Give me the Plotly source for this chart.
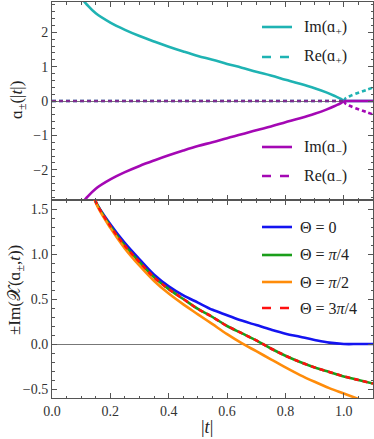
import plotly.graph_objects as go

# ---- top panel: a_plus / a_minus ----
t_im = [0.105, 0.12, 0.15, 0.2, 0.25, 0.3, 0.35, 0.4, 0.45, 0.5, 0.55, 0.6,
        0.65, 0.7, 0.75, 0.8, 0.85, 0.9, 0.94, 0.97, 0.99, 1.0]
im_plus = [2.95, 2.80, 2.55, 2.28, 2.07, 1.89, 1.73, 1.58, 1.44, 1.31, 1.20, 1.08,
           0.97, 0.85, 0.74, 0.62, 0.50, 0.37, 0.25, 0.14, 0.06, 0.0]
im_minus = [-2.95, -2.80, -2.55, -2.28, -2.07, -1.89, -1.73, -1.58, -1.44, -1.31, -1.20, -1.08,
            -0.97, -0.85, -0.74, -0.62, -0.50, -0.37, -0.25, -0.14, -0.06, 0.0]
t_im_flat = [1.0, 1.1]
im_flat = [0.0, 0.0]

t_re_flat = [0.0, 1.0]
re_flat = [0.0, 0.0]
t_re = [1.0, 1.005, 1.01, 1.02, 1.04, 1.06, 1.08, 1.1]
re_plus = [0.0, 0.07, 0.10, 0.14, 0.21, 0.27, 0.33, 0.39]
re_minus = [0.0, -0.07, -0.10, -0.14, -0.21, -0.27, -0.33, -0.39]

# ---- bottom panel: +-Im(chi) for several Theta ----
t_chi = [0.14, 0.15, 0.2, 0.25, 0.3, 0.35, 0.4, 0.45, 0.5, 0.55, 0.6, 0.65,
         0.7, 0.75, 0.8, 0.85, 0.9, 0.95, 1.0, 1.05, 1.1]
chi_0 = [1.70, 1.58, 1.33, 1.12, 0.94, 0.77, 0.64, 0.54, 0.46, 0.38, 0.32, 0.26,
         0.21, 0.16, 0.115, 0.08, 0.045, 0.015, 0.0, 0.0, 0.0]
chi_q = [1.70, 1.58, 1.31, 1.09, 0.91, 0.74, 0.61, 0.50, 0.39, 0.30, 0.20, 0.12,
         0.04, -0.05, -0.13, -0.20, -0.26, -0.31, -0.36, -0.40, -0.44]
chi_h = [1.70, 1.57, 1.29, 1.06, 0.87, 0.70, 0.56, 0.44, 0.33, 0.22, 0.11, 0.01,
         -0.08, -0.17, -0.26, -0.345, -0.42, -0.49, -0.55, -0.61, -0.67]
chi_3q = chi_q  # 3pi/4 coincides with pi/4 in the reference

CYAN = '#1fb3b3'
MAGENTA = '#a408b4'
ZERO_DASH = '#7e2a8e'   # dashed Re lines sit on the gray zero axis -> darker purple
FONT = 'Liberation Serif, Times New Roman, serif'
AXC = '#555555'

fig = go.Figure()

def add(x, y, color, dash='solid', xa='x', ya='y', width=2.6, shape='spline'):
    fig.add_trace(go.Scatter(
        x=x, y=y, mode='lines', xaxis=xa, yaxis=ya, showlegend=False,
        line=dict(color=color, width=width, dash=dash, shape=shape),
        hoverinfo='skip'))

# top panel
add(t_im, im_plus, CYAN)
add(t_im_flat, im_flat, CYAN, shape='linear')
add(t_re_flat, re_flat, CYAN, dash='4px,3px', shape='linear')
add(t_re, re_plus, CYAN, dash='4px,3px')
add(t_im, im_minus, MAGENTA)
add(t_im_flat, im_flat, MAGENTA, shape='linear')
add(t_re_flat, re_flat, ZERO_DASH, dash='4px,3px', shape='linear')
add(t_re, re_minus, MAGENTA, dash='4px,3px')

# bottom panel
add(t_chi, chi_0, '#1414f0', xa='x2', ya='y2')
add(t_chi, chi_q, '#1a9e1a', xa='x2', ya='y2')
add(t_chi, chi_h, '#ff8c0a', xa='x2', ya='y2')
add(t_chi, chi_3q, '#ff1010', dash='5px,4px', xa='x2', ya='y2')

tick_font = dict(family=FONT, size=14, color='#333333')

def xax(show_labels, anchor):
    return dict(range=[0, 1.1], anchor=anchor, showgrid=False, zeroline=False,
                showline=True, linecolor=AXC, linewidth=1, mirror='ticks',
                ticks='inside', ticklen=5, tickcolor=AXC, dtick=0.2, tick0=0,
                tickformat='.1f', showticklabels=show_labels, tickfont=tick_font,
                minor=dict(ticks='inside', dtick=0.05, ticklen=2.5, tickcolor=AXC))

def yax(rng, dtick, mdtick, dom, anchor, fmt):
    return dict(range=rng, domain=dom, anchor=anchor, showgrid=False,
                zeroline=True, zerolinecolor='#777777', zerolinewidth=1,
                showline=True, linecolor=AXC, linewidth=1, mirror='ticks',
                ticks='inside', ticklen=5, tickcolor=AXC, dtick=dtick, tick0=0,
                tickformat=fmt, tickfont=tick_font,
                minor=dict(ticks='inside', dtick=mdtick, ticklen=2.5, tickcolor=AXC))

fig.update_layout(
    width=374, height=439,
    margin=dict(l=52, r=1, t=2, b=41),
    plot_bgcolor='white', paper_bgcolor='white',
    font=dict(family=FONT, color='#222222'),
    xaxis=xax(False, 'y'),
    yaxis=yax([-2.88, 2.88], 1, 0.2, [0.5, 1], 'x', 'd'),
    xaxis2=xax(True, 'y2'),
    yaxis2=yax([-0.6, 1.6], 0.5, 0.1, [0, 0.5], 'x2', '.1f'),
)
fig.update_layout(xaxis2=dict(matches='x'))

# legends drawn by hand (pixel positions converted to paper coords)
W, H = 374, 439
L, R, T, B = 52, 1, 2, 41
def px(xp):
    return (xp - L) / (W - L - R)
def py(yp):
    return 1 - (yp - T) / (H - T - B)

legend_rows = [
    (27, CYAN, 'solid', 'Im(ɑ<sub>+</sub>)', 302),
    (57, CYAN, 'dash', 'Re(ɑ<sub>+</sub>)', 302),
    (147, MAGENTA, 'solid', 'Im(ɑ<sub>−</sub>)', 302),
    (176, MAGENTA, 'dash', 'Re(ɑ<sub>−</sub>)', 302),
    (227, '#1414f0', 'solid', 'Θ = 0', 298),
    (255, '#1a9e1a', 'solid', 'Θ = <i>π</i>/4', 298),
    (282, '#ff8c0a', 'solid', 'Θ = <i>π</i>/2', 298),
    (308, '#ff1010', 'dash', 'Θ = 3<i>π</i>/4', 298),
]
for yp, col, dash, txt, xt in legend_rows:
    fig.add_shape(type='line', xref='paper', yref='paper',
                  x0=px(262), x1=px(292), y0=py(yp), y1=py(yp),
                  line=dict(color=col, width=2.6, dash=dash))
    fig.add_annotation(xref='paper', yref='paper', x=px(xt), y=py(yp),
                       xanchor='left', yanchor='middle', showarrow=False,
                       text=txt, font=dict(family=FONT, size=16, color='#222222'))

# axis titles
fig.add_annotation(xref='paper', yref='paper', x=px(18), y=py(100),
                   xanchor='center', yanchor='middle',
                   text='ɑ<sub>±</sub>(|<i>t</i>|)', textangle=-90, showarrow=False,
                   font=dict(family=FONT, size=17, color='#222222'))
fig.add_annotation(xref='paper', yref='paper', x=px(16), y=py(290),
                   xanchor='center', yanchor='middle',
                   text='±Im(𝒳(ɑ<sub>±</sub>,<i>t</i>))', textangle=-90, showarrow=False,
                   font=dict(family=FONT, size=17, color='#222222'))
fig.add_annotation(xref='paper', yref='paper', x=px(207), y=py(427),
                   xanchor='center', yanchor='middle',
                   text='|<i>t</i>|', showarrow=False,
                   font=dict(family=FONT, size=18, color='#222222'))

fig.write_html("out.html", config={'displayModeBar': False},
               post_script="document.body.style.margin='0';")
